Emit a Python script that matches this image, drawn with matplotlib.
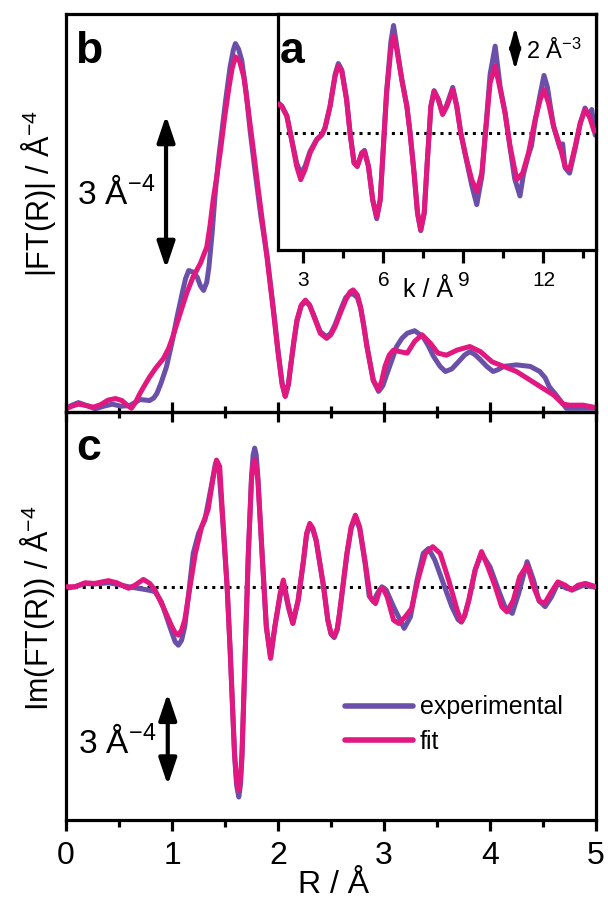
import matplotlib
matplotlib.use("Agg")
import matplotlib.pyplot as plt
from matplotlib.ticker import MultipleLocator

plt.rcParams['font.family'] = ['Liberation Sans', 'DejaVu Sans']
plt.rcParams['mathtext.fontset'] = 'custom'
plt.rcParams['mathtext.rm'] = 'Liberation Sans'
plt.rcParams['mathtext.it'] = 'Liberation Sans:italic'
plt.rcParams['mathtext.bf'] = 'Liberation Sans:bold'

# ---------------- data ----------------
# panel b : |FT(R)|
mag_exp = [(0.00,0.07),(0.06,0.14),(0.12,0.19),(0.20,0.13),(0.28,0.07),(0.36,0.12),(0.44,0.16),
           (0.52,0.12),(0.60,0.13),(0.66,0.20),(0.70,0.25),(0.75,0.24),(0.79,0.23),(0.83,0.28),
           (0.86,0.37),(0.90,0.58),(0.95,0.89),(1.00,1.35),(1.05,1.87),(1.10,2.35),(1.13,2.62),
           (1.16,2.78),(1.20,2.75),(1.24,2.65),(1.27,2.48),(1.30,2.39),(1.33,2.55),(1.35,2.84),
           (1.38,3.50),(1.41,4.30),(1.44,4.95),(1.47,5.46),(1.51,6.15),(1.55,6.77),(1.58,7.10),
           (1.60,7.23),(1.63,7.12),(1.66,6.90),(1.70,6.30),(1.74,5.50),(1.79,4.65),(1.84,3.85),
           (1.90,3.05),(1.96,2.00),(2.00,1.25),(2.04,0.58),(2.07,0.32),(2.10,0.55),(2.12,0.88),
           (2.15,1.35),(2.18,1.78),(2.22,2.08),(2.26,2.18),(2.30,2.10),(2.34,1.90),(2.40,1.58),
           (2.46,1.48),(2.50,1.55),(2.54,1.72),(2.60,2.05),(2.64,2.25),(2.68,2.32),(2.71,2.32),
           (2.75,2.25),(2.78,2.05),(2.81,1.70),(2.84,1.30),(2.90,0.62),(2.95,0.41),(2.99,0.52),
           (3.03,0.76),(3.08,1.05),(3.12,1.29),(3.17,1.45),(3.22,1.55),(3.29,1.60),(3.37,1.48),
           (3.42,1.30),(3.47,1.09),(3.53,0.90),(3.58,0.80),(3.64,0.85),(3.69,0.96),(3.76,1.12),
           (3.81,1.19),(3.86,1.13),(3.91,1.03),(3.97,0.90),(4.03,0.80),(4.08,0.84),(4.13,0.90),
           (4.25,0.93),(4.38,0.90),(4.47,0.80),(4.52,0.68),(4.56,0.50),(4.62,0.35),(4.66,0.24),
           (4.72,0.08),(4.81,0.08),(5.00,0.08)]
mag_fit = [(0.00,0.07),(0.06,0.12),(0.12,0.16),(0.20,0.13),(0.26,0.10),(0.33,0.15),(0.40,0.24),
           (0.47,0.27),(0.53,0.23),(0.58,0.14),(0.62,0.08),(0.66,0.20),(0.70,0.37),(0.75,0.55),
           (0.79,0.69),(0.85,0.87),(0.92,1.05),(0.97,1.25),(1.01,1.48),(1.07,1.88),(1.14,2.33),
           (1.20,2.65),(1.27,2.92),(1.33,3.24),(1.36,3.65),(1.39,4.16),(1.43,4.70),(1.46,5.14),
           (1.50,5.80),(1.54,6.38),(1.57,6.75),(1.60,6.97),(1.64,6.88),(1.68,6.57),(1.72,5.95),
           (1.77,5.14),(1.82,4.30),(1.87,3.50),(1.90,3.00),(1.96,1.95),(2.00,1.20),(2.04,0.55),
           (2.07,0.31),(2.10,0.55),(2.12,0.90),(2.15,1.38),(2.18,1.81),(2.22,2.10),(2.26,2.20),
           (2.30,2.10),(2.34,1.88),(2.40,1.55),(2.46,1.45),(2.50,1.52),(2.54,1.68),(2.60,2.00),
           (2.64,2.20),(2.68,2.36),(2.71,2.40),(2.75,2.30),(2.78,2.07),(2.81,1.70),(2.84,1.29),
           (2.90,0.63),(2.95,0.44),(2.98,0.62),(3.01,0.90),(3.05,1.12),(3.09,1.22),(3.15,1.19),
           (3.22,1.16),(3.29,1.39),(3.36,1.52),(3.44,1.35),(3.51,1.16),(3.59,1.12),(3.69,1.22),
           (3.81,1.29),(3.91,1.19),(4.02,0.99),(4.13,0.90),(4.25,0.80),(4.38,0.63),(4.50,0.47),
           (4.60,0.34),(4.69,0.16),(4.75,0.14),(4.88,0.14),(5.00,0.09)]

# panel c : Im(FT(R))
im_exp = [(0.00,-0.05),(0.085,0.00),(0.18,0.11),(0.27,0.09),(0.40,0.13),(0.48,0.08),(0.59,0.00),
          (0.68,-0.05),(0.78,-0.11),(0.84,-0.16),(0.90,-0.49),(0.98,-1.31),(1.03,-1.80),(1.06,-1.91),
          (1.09,-1.75),(1.12,-1.31),(1.15,-0.44),(1.20,1.09),(1.25,1.74),(1.31,2.18),(1.37,3.27),
          (1.41,4.03),(1.44,3.95),(1.48,2.10),(1.52,0.00),(1.55,-2.18),(1.59,-5.50),(1.61,-6.50),
          (1.63,-6.87),(1.645,-6.50),(1.66,-5.60),(1.69,-2.25),(1.72,1.05),(1.75,3.60),(1.765,4.30),
          (1.78,4.53),(1.795,4.30),(1.81,3.60),(1.85,1.05),(1.89,-1.31),(1.93,-2.30),(1.97,-1.31),
          (2.02,-0.30),(2.05,0.11),(2.10,-0.70),(2.14,-1.19),(2.19,-0.45),(2.24,0.82),(2.27,1.70),
          (2.30,2.02),(2.33,1.85),(2.36,1.50),(2.43,0.00),(2.47,-1.09),(2.50,-1.55),(2.53,-1.66),
          (2.56,-1.40),(2.58,-0.90),(2.65,1.05),(2.69,1.90),(2.73,2.28),(2.77,1.90),(2.82,0.80),
          (2.86,-0.30),(2.90,-0.49),(2.94,-0.20),(2.98,0.00),(3.02,-0.10),(3.09,-0.65),(3.14,-1.00),
          (3.19,-1.36),(3.25,-0.98),(3.31,0.20),(3.37,1.09),(3.42,1.25),(3.48,0.87),(3.56,0.11),
          (3.64,-0.65),(3.70,-1.08),(3.73,-1.15),(3.76,-0.95),(3.80,-0.44),(3.86,0.55),(3.92,1.09),
          (4.00,0.65),(4.08,-0.11),(4.14,-0.65),(4.21,-0.87),(4.27,-0.22),(4.35,0.82),(4.41,0.22),
          (4.46,-0.44),(4.52,-0.65),(4.58,-0.33),(4.64,0.11),(4.72,-0.05),(4.78,-0.10),(4.88,0.05),
          (5.00,-0.02)]
im_fit = [(0.00,0.00),(0.085,0.00),(0.18,0.13),(0.27,0.11),(0.40,0.20),(0.48,0.13),(0.59,-0.05),
          (0.65,0.05),(0.73,0.24),(0.79,0.11),(0.84,-0.11),(0.93,-0.76),(1.00,-1.31),(1.03,-1.50),
          (1.06,-1.58),(1.09,-1.42),(1.12,-1.09),(1.17,0.00),(1.22,1.09),(1.28,1.96),(1.34,2.51),
          (1.39,3.60),(1.42,4.14),(1.45,3.93),(1.48,2.18),(1.52,0.00),(1.55,-2.18),(1.59,-5.45),
          (1.61,-6.35),(1.63,-6.65),(1.645,-6.30),(1.66,-5.45),(1.69,-2.18),(1.72,1.09),(1.75,3.49),
          (1.765,4.00),(1.78,4.14),(1.795,3.95),(1.81,3.49),(1.85,1.09),(1.89,-1.31),(1.93,-2.34),
          (1.97,-1.31),(2.02,-0.22),(2.05,0.22),(2.10,-0.65),(2.14,-1.20),(2.19,-0.44),(2.24,0.87),
          (2.27,1.75),(2.30,2.07),(2.33,1.90),(2.36,1.53),(2.43,0.00),(2.47,-1.09),(2.50,-1.52),
          (2.53,-1.62),(2.56,-1.35),(2.58,-0.87),(2.65,1.09),(2.69,1.96),(2.73,2.34),(2.77,1.96),
          (2.82,0.87),(2.87,-0.33),(2.92,-0.55),(2.96,-0.11),(2.99,-0.05),(3.03,-0.33),(3.09,-1.09),
          (3.14,-1.20),(3.20,-0.98),(3.26,-0.71),(3.32,0.22),(3.39,1.09),(3.46,1.31),(3.53,1.09),
          (3.61,0.22),(3.69,-0.76),(3.73,-1.15),(3.76,-0.95),(3.80,-0.44),(3.86,0.55),(3.92,1.15),
          (3.98,0.65),(4.05,0.00),(4.11,-0.65),(4.16,-0.82),(4.22,-0.44),(4.28,0.33),(4.35,0.71),
          (4.41,0.00),(4.47,-0.49),(4.52,-0.52),(4.57,-0.22),(4.64,0.16),(4.71,0.05),(4.77,-0.11),
          (4.83,0.05),(4.90,0.11),(5.00,0.00)]

# panel a (inset) : k^3 chi(k)
chi_exp = [(2.00,1.45),(2.19,1.25),(2.38,0.80),(2.56,-0.30),(2.75,-1.40),(2.90,-1.85),(3.06,-1.55),
           (3.25,-0.85),(3.50,-0.30),(3.69,-0.08),(3.81,0.23),(4.00,1.23),(4.19,2.70),(4.31,3.20),
           (4.44,2.90),(4.62,1.54),(4.75,0.00),(4.90,-1.38),(5.02,-1.54),(5.19,-0.92),(5.29,-0.80),
           (5.44,-1.54),(5.60,-3.10),(5.75,-3.95),(5.88,-3.10),(6.00,-0.62),(6.12,1.90),(6.28,4.20),
           (6.38,4.95),(6.50,4.00),(6.69,2.46),(6.88,1.23),(7.00,0.00),(7.15,-1.85),(7.28,-3.70),
           (7.40,-4.50),(7.53,-3.70),(7.65,-1.23),(7.78,1.23),(7.90,1.95),(8.06,1.54),(8.22,0.90),
           (8.38,1.30),(8.60,2.10),(8.75,1.25),(8.90,0.00),(9.12,-1.30),(9.31,-2.40),(9.50,-3.30),
           (9.69,-2.00),(9.85,0.40),(10.00,2.70),(10.19,4.00),(10.38,2.10),(10.56,0.95),(10.75,-0.70),
           (10.92,-2.10),(11.12,-2.90),(11.25,-1.90),(11.44,-1.00),(11.55,-0.60),(11.69,0.55),
           (11.88,1.80),(12.02,2.65),(12.15,2.10),(12.25,1.30),(12.38,0.30),(12.50,-0.20),
           (12.62,-0.70),(12.72,-0.50),(12.81,-1.60),(12.98,-1.85),(13.19,-0.70),(13.38,0.45),
           (13.56,1.15),(13.72,0.75),(13.81,1.08),(13.94,-0.10)]
chi_fit = [(2.00,1.38),(2.19,1.23),(2.38,0.77),(2.56,-0.31),(2.75,-1.54),(2.90,-2.15),(3.06,-1.69),
           (3.25,-0.92),(3.50,-0.31),(3.69,-0.08),(3.81,0.23),(4.00,1.23),(4.19,2.62),(4.31,3.08),
           (4.44,2.85),(4.62,1.54),(4.75,0.00),(4.90,-1.38),(5.02,-1.54),(5.19,-0.92),(5.29,-0.85),
           (5.44,-1.54),(5.60,-3.08),(5.75,-3.85),(5.88,-3.08),(6.00,-0.62),(6.12,1.85),(6.28,3.85),
           (6.38,4.46),(6.50,3.85),(6.69,2.46),(6.88,1.23),(7.00,0.00),(7.15,-1.85),(7.28,-3.69),
           (7.40,-4.46),(7.53,-3.69),(7.65,-1.23),(7.78,1.23),(7.90,1.92),(8.06,1.54),(8.22,0.85),
           (8.38,1.23),(8.60,2.00),(8.75,1.23),(8.90,0.00),(9.12,-1.23),(9.31,-2.15),(9.50,-2.69),
           (9.69,-1.85),(9.85,0.31),(10.00,2.31),(10.19,3.08),(10.38,2.00),(10.56,0.92),(10.75,-0.62),
           (11.00,-2.15),(11.22,-1.85),(11.44,-0.92),(11.69,0.62),(11.88,1.54),(12.02,2.00),
           (12.19,1.38),(12.38,0.31),(12.62,-0.62),(12.81,-1.54),(12.98,-1.69),(13.19,-0.62),
           (13.38,0.46),(13.56,1.08),(13.72,0.77),(13.90,0.08)]

legend_labels = ['experimental', 'fit']
r_ticks = [0, 1, 2, 3, 4, 5]
k_ticks = [3, 6, 9, 12]

# ---------------- styling ----------------
C_EXP = '#6a50a8'
C_FIT = '#e0187f'
LW = 3.6
SPW = 2.3
W, H = 608, 900


def fx(px):
    return px / W


def fy(py):
    return 1 - py / H


fig = plt.figure(figsize=(W / 100, H / 100), dpi=100)
fig.patch.set_facecolor('white')

axb = fig.add_axes([fx(65.7), fy(412.3), (596 - 65.7) / W, (412.3 - 14) / H])
axc = fig.add_axes([fx(66), fy(820), (596 - 66) / W, (820 - 412.3) / H])
axi = fig.add_axes([fx(277.5), fy(250), (596 - 277.5) / W, (250 - 14) / H])

for ax in (axb, axc):
    ax.patch.set_alpha(0)
for ax in (axb, axc, axi):
    for s in ax.spines.values():
        s.set_linewidth(SPW)

line_kw = dict(lw=LW, solid_capstyle='round', solid_joinstyle='round')

# panel b
axb.plot(*zip(*mag_exp), color=C_EXP, **line_kw)
axb.plot(*zip(*mag_fit), color=C_FIT, **line_kw)
axb.set_xlim(0, 5)
axb.set_ylim(0, 7.81)
axb.set_yticks([])
axb.set_xticks(r_ticks)
axb.xaxis.set_minor_locator(MultipleLocator(0.5))
axb.tick_params(axis='x', which='major', direction='inout', length=15, width=SPW, labelbottom=False)
axb.tick_params(axis='x', which='minor', direction='inout', length=9, width=SPW)
axb.annotate('', xy=(0.946, 5.82), xytext=(0.946, 2.82),
             arrowprops=dict(arrowstyle='<|-|>,head_length=0.8,head_width=0.27', lw=3, color='k',
                             shrinkA=0, shrinkB=0, mutation_scale=20))
axb.text(0.105, 4.08, '3 Å$^{-4}$', fontsize=24, ha='left', va='baseline')

# panel c
axc.axhline(0, color='k', ls=':', lw=2.2, zorder=1)
axc.plot(*zip(*im_exp), color=C_EXP, label=legend_labels[0], zorder=2, **line_kw)
axc.plot(*zip(*im_fit), color=C_FIT, label=legend_labels[1], zorder=3, **line_kw)
axc.set_xlim(0, 5)
axc.set_ylim(-7.62, 5.70)
axc.set_yticks([])
axc.set_xticks(r_ticks)
axc.set_xticklabels([str(t) for t in r_ticks])
axc.xaxis.set_minor_locator(MultipleLocator(0.5))
axc.tick_params(axis='x', which='major', direction='out', length=8, width=SPW, labelsize=23, pad=7)
axc.tick_params(axis='x', which='minor', direction='out', length=5, width=SPW)
axc.annotate('', xy=(0.96, -3.48), xytext=(0.96, -6.48),
             arrowprops=dict(arrowstyle='<|-|>,head_length=0.8,head_width=0.27', lw=3, color='k',
                             shrinkA=0, shrinkB=0, mutation_scale=20))
axc.text(0.11, -5.43, '3 Å$^{-4}$', fontsize=24, ha='left', va='baseline')
leg = axc.legend(loc='center left', bbox_to_anchor=((345 - 66) / 530, (820 - 724.5) / 407.7),
                 frameon=False, fontsize=18, handlelength=2.7, handletextpad=0.3,
                 labelspacing=0.42, borderpad=0, borderaxespad=0)
for h in leg.get_lines():
    h.set_linewidth(LW + 0.4)

# inset a
axi.set_facecolor('white')
axi.axhline(0, color='k', ls=':', lw=2.2, zorder=1)
axi.plot(*zip(*chi_exp), color=C_EXP, zorder=2, **line_kw)
axi.plot(*zip(*chi_fit), color=C_FIT, zorder=3, **line_kw)
axi.set_xlim(2.03, 13.97)
axi.set_ylim(-5.39, 5.48)
axi.set_yticks([])
axi.set_xticks(k_ticks)
axi.set_xticklabels([str(t) for t in k_ticks])
axi.xaxis.set_minor_locator(MultipleLocator(1.5))
axi.tick_params(axis='x', which='major', direction='out', length=9, width=SPW, labelsize=15, pad=6)
axi.tick_params(axis='x', which='minor', direction='out', length=6, width=SPW)
axi.annotate('', xy=(10.94, 4.88), xytext=(10.94, 2.9),
             arrowprops=dict(arrowstyle='<|-|>,head_length=0.8,head_width=0.22', lw=2.2, color='k',
                             shrinkA=0, shrinkB=0, mutation_scale=15))
axi.text(11.35, 3.41, '2 Å$^{-3}$', fontsize=17, ha='left', va='baseline')
fig.text(fx(428), fy(290), 'k / Å', fontsize=18, ha='center', va='center')

# panel letters
fig.text(fx(75), fy(63), 'b', fontsize=32, fontweight='bold', va='baseline')
fig.text(fx(280), fy(63), 'a', fontsize=32, fontweight='bold', va='baseline')
fig.text(fx(76), fy(460), 'c', fontsize=32, fontweight='bold', va='baseline')

# axis labels
fig.text(fx(38), fy(193), '|FT(R)| / Å$^{-4}$', fontsize=22, rotation=90, ha='center', va='center')
fig.text(fx(38), fy(608), 'Im(FT(R)) / Å$^{-4}$', fontsize=22, rotation=90, ha='center', va='center')
fig.text(fx(334), fy(893), 'R / Å', fontsize=23, ha='center', va='baseline')

fig.savefig('out.png', dpi=100, facecolor=fig.get_facecolor())
